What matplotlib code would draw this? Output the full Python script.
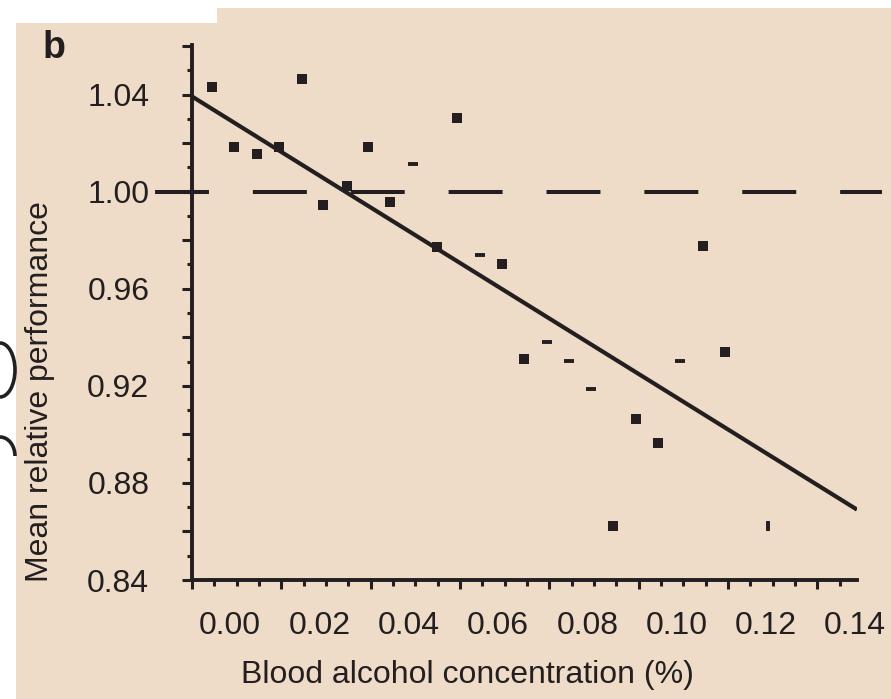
import matplotlib
matplotlib.use("Agg")
import matplotlib.pyplot as plt
import matplotlib.transforms as mtransforms
from matplotlib.patches import Polygon, Arc
from matplotlib.ticker import MultipleLocator

# ---------------- data ----------------
bac = [0.0045, 0.0246, 0.0094, 0.0146, 0.0195, 0.0394, 0.0495, 0.0293, 0.0347,
       0.0443, 0.0594, 0.0549, 0.0645, 0.0694, 0.1144, 0.0795, 0.0744, 0.0844,
       0.0894, 0.0994, 0.0943, 0.1194, 0.1093, 0.1044, 0.1290]
performance = [1.0431, 1.0464, 1.0185, 1.0156, 1.0185, 1.0185, 1.0115, 0.9943, 1.0025,
               0.9959, 1.0304, 0.9770, 0.9737, 0.9700, 0.9778, 0.9380, 0.9310, 0.9302,
               0.9187, 0.9064, 0.8624, 0.9339, 0.9302, 0.8965, 0.8624]
# how each point appears in the scanned figure
point_kind = ['s', 's', 's', 's', 's', 's', '_', 's', 's',
              's', 's', 's', '_', 's', 's', '_', 's', '_',
              '_', 's', 's', 's', '_', 's', '|']

fit_x = [0.0, 0.1489]
fit_y = [1.0392, 0.869]
reference_level = 1.00

xticks = [0.00, 0.02, 0.04, 0.06, 0.08, 0.10, 0.12, 0.14]
xticklabels = ['0.00', '0.02', '0.04', '0.06', '0.08', '0.10', '0.12', '0.14']
yticks = [0.84, 0.86, 0.88, 0.90, 0.92, 0.94, 0.96, 0.98, 1.00, 1.02, 1.04, 1.06]
yticklabels = ['0.84', '', '0.88', '', '0.92', '', '0.96', '', '1.00', '', '1.04', '']

xlabel = 'Blood alcohol concentration (%)'
ylabel = 'Mean relative performance'
panel = 'b'

# ---------------- style ----------------
ink = '#231f20'
beige = '#EFDCC8'
W, H = 891, 699
plt.rcParams['font.family'] = ['Liberation Sans', 'DejaVu Sans']

fig = plt.figure(figsize=(W / 100, H / 100), dpi=100)
fig.patch.set_facecolor('white')

def fp(x, y):
    return (x / W, 1 - y / H)

bg = Polygon([fp(16, 23), fp(217, 23), fp(217, 8), fp(891, 8), fp(891, 699), fp(16, 699)],
             closed=True, transform=fig.transFigure, facecolor=beige, edgecolor='none', zorder=-10)
fig.patches.append(bg)

# fragments of neighbouring letters at the left edge of the scan
a1 = Arc(fp(0, 370), 30 / W, 54 / H, theta1=-90, theta2=90, transform=fig.transFigure,
         color=ink, lw=2.6, zorder=-5)
a2 = Arc(fp(0, 456), 30 / W, 38 / H, theta1=0, theta2=90, transform=fig.transFigure,
         color=ink, lw=2.6, zorder=-5)
fig.patches.extend([a1, a2])

ax = fig.add_axes([192 / W, 119 / H, 665 / W, 535 / H])
ax.set_zorder(1)
ax.set_facecolor('none')
ax.set_xlim(0, 0.1489)
ax.set_ylim(0.84, 1.0604)

for sp in ['top', 'right']:
    ax.spines[sp].set_visible(False)
for sp in ['left', 'bottom']:
    ax.spines[sp].set_linewidth(2.8)
    ax.spines[sp].set_color(ink)
    ax.spines[sp].set_capstyle('projecting')

ax.set_xticks(xticks, labels=xticklabels)
ax.set_yticks(yticks, labels=yticklabels)
ax.xaxis.set_minor_locator(MultipleLocator(0.005))
ax.yaxis.set_minor_locator(MultipleLocator(0.01))

ax.tick_params(axis='both', which='both', direction='out', color=ink, width=2.2,
               labelcolor=ink, labelsize=23)
ax.tick_params(axis='y', which='major', length=7.2, pad=23.5)
ax.tick_params(axis='y', which='minor', length=3.6)
ax.tick_params(axis='x', which='major', length=6.8, pad=15.5)
ax.tick_params(axis='x', which='minor', length=4.4)

# the scanned x tick labels sit to the right of their ticks
offset = mtransforms.ScaledTranslation(38 / 100, 0, fig.dpi_scale_trans)
for t in ax.xaxis.get_major_ticks():
    t.label1.set_transform(t.label1.get_transform() + offset)

# dashed reference line at 1.00 (extends beyond the axes in the original)
ax.axhline(reference_level, xmin=-0.0556, xmax=1.0376, color=ink, lw=2.9,
           dashes=(13.4, 10.9), clip_on=False, zorder=2)

# regression line
ax.plot(fit_x, fit_y, color=ink, lw=3.0, solid_capstyle='butt', zorder=3)

# points
for kind in ['s', '_', '|']:
    xs = [x for x, k in zip(bac, point_kind) if k == kind]
    ys = [y for y, k in zip(performance, point_kind) if k == kind]
    if kind == 's':
        ax.plot(xs, ys, ls='none', marker='s', markersize=6.8, color=ink, mew=0, zorder=4)
    else:
        ax.plot(xs, ys, ls='none', marker=kind, markersize=6.5, color=ink, mew=2.8, zorder=4)

ax.set_xlabel(xlabel, fontsize=23, color=ink)
ax.xaxis.set_label_coords(0.4135, -0.150)
ax.set_ylabel(ylabel, fontsize=23, color=ink)
ax.yaxis.set_label_coords(-0.206, 0.352)

fig.text(43 / W, 1 - 58 / H, panel, fontsize=27, fontweight='bold', color=ink,
         ha='left', va='baseline', zorder=2)

fig.savefig('out.png', dpi=100, facecolor=fig.get_facecolor())
